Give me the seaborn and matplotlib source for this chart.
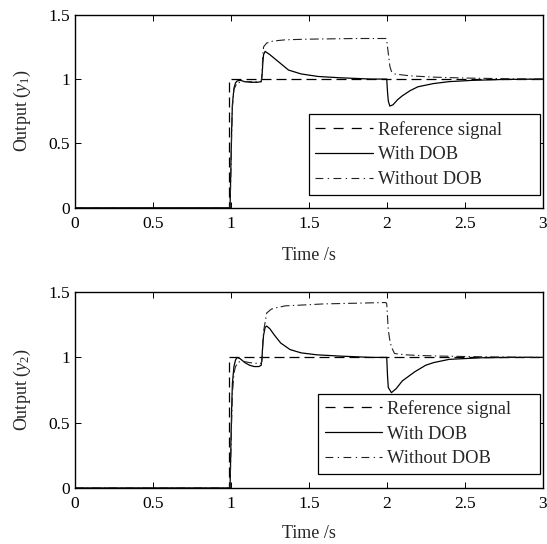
import numpy as np
import pandas as pd
import matplotlib
matplotlib.use("Agg")
import matplotlib.pyplot as plt
import seaborn as sns

# ---------------- data ----------------
ref_t = [0, 0.99, 0.99, 3.0]
ref_y = [0, 0, 1.0, 1.0]

# top panel (y1)
dob1_t = [0, 0.995, 1.0, 1.005, 1.01, 1.02, 1.03, 1.04, 1.06, 1.09, 1.13, 1.17, 1.195,
          1.2, 1.205, 1.21, 1.22, 1.25, 1.28, 1.31, 1.37, 1.45, 1.56, 1.7, 1.9, 2.0,
          2.005, 2.01, 2.02, 2.04, 2.07, 2.1, 2.15, 2.2, 2.3, 2.4, 2.55, 2.75, 3.0]
dob1_y = [0, 0, 0.3, 0.6, 0.8, 0.93, 0.97, 0.985, 0.99, 0.98, 0.975, 0.975, 0.98,
          1.02, 1.12, 1.19, 1.215, 1.19, 1.16, 1.13, 1.07, 1.04, 1.02, 1.01, 1.0, 1.0,
          0.9, 0.83, 0.79, 0.8, 0.84, 0.87, 0.91, 0.94, 0.965, 0.98, 0.99, 0.997, 1.0]

nod1_t = [0, 0.995, 1.0, 1.005, 1.01, 1.02, 1.04, 1.08, 1.15, 1.195, 1.2, 1.205, 1.21,
          1.23, 1.27, 1.35, 1.5, 1.8, 1.995, 2.0, 2.01, 2.02, 2.03, 2.05, 2.08, 2.15,
          2.3, 2.5, 2.75, 3.0]
nod1_y = [0, 0, 0.25, 0.55, 0.78, 0.92, 0.97, 0.98, 0.98, 0.98, 1.05, 1.18, 1.25,
          1.28, 1.295, 1.305, 1.31, 1.315, 1.315, 1.3, 1.2, 1.1, 1.06, 1.04, 1.035, 1.025,
          1.015, 1.008, 1.003, 1.0]

# bottom panel (y2)
dob2_t = [0, 0.995, 1.0, 1.005, 1.01, 1.02, 1.03, 1.04, 1.06, 1.09, 1.12, 1.15, 1.18,
          1.195, 1.2, 1.205, 1.21, 1.22, 1.23, 1.25, 1.28, 1.32, 1.38, 1.45, 1.55, 1.7,
          1.9, 2.0, 2.005, 2.01, 2.03, 2.06, 2.1, 2.18, 2.25, 2.3, 2.4, 2.6, 2.8, 3.0]
dob2_y = [0, 0, 0.3, 0.6, 0.8, 0.93, 0.98, 1.0, 0.99, 0.96, 0.94, 0.93, 0.93,
          0.94, 1.0, 1.1, 1.17, 1.23, 1.24, 1.22, 1.17, 1.11, 1.06, 1.035, 1.02, 1.01,
          1.0, 1.0, 0.86, 0.77, 0.73, 0.76, 0.82, 0.89, 0.94, 0.96, 0.985, 0.997, 1.0, 1.0]

nod2_t = [0, 0.995, 1.0, 1.005, 1.01, 1.02, 1.03, 1.05, 1.08, 1.12, 1.16, 1.195, 1.2,
          1.205, 1.21, 1.23, 1.26, 1.29, 1.35, 1.44, 1.6, 1.8, 1.97, 1.995, 2.0, 2.01,
          2.02, 2.03, 2.05, 2.08, 2.12, 2.2, 2.35, 2.6, 3.0]
nod2_y = [0, 0, 0.25, 0.5, 0.72, 0.88, 0.93, 0.965, 0.97, 0.96, 0.955, 0.955, 0.98,
          1.1, 1.2, 1.34, 1.37, 1.38, 1.395, 1.40, 1.41, 1.415, 1.42, 1.42, 1.41, 1.21,
          1.13, 1.08, 1.03, 1.025, 1.02, 1.015, 1.01, 1.005, 1.0]

x_ticks = [0, 0.5, 1, 1.5, 2, 2.5, 3]
y_ticks = [0, 0.5, 1, 1.5]
labels = ["Reference signal", "With DOB", "Without DOB"]

DASH = [8, 4]
DASHDOT = [8, 3, 1.2, 3]
LEG_DASH = [8, 6.5]
LEG_DASHDOT = [7, 4, 1.2, 4]

# ---------------- style ----------------
sns.set_style("ticks")
plt.rcParams["font.family"] = ["Liberation Serif", "DejaVu Serif"]
plt.rcParams["mathtext.fontset"] = "custom"
plt.rcParams["mathtext.rm"] = "Liberation Serif"
plt.rcParams["mathtext.it"] = "Liberation Serif:italic"
plt.rcParams["xtick.direction"] = "in"
plt.rcParams["ytick.direction"] = "in"

fig = plt.figure(figsize=(5.47, 5.44), dpi=100)
ax1 = fig.add_axes([0.137, 0.618, 0.855, 0.355])
ax2 = fig.add_axes([0.137, 0.103, 0.855, 0.360])

panels = [
    (ax1, dob1_t, dob1_y, nod1_t, nod1_y, r"Output ($y_1$)", (0.50, 0.068, 0.495, 0.3), 11),
    (ax2, dob2_t, dob2_y, nod2_t, nod2_y, r"Output ($y_2$)", (0.52, 0.072, 0.475, 0.3), 9.5),
]

for ax, dt, dy, nt, ny, ylab, bbox, xpad in panels:
    sns.lineplot(x=ref_t, y=ref_y, ax=ax, color="black", lw=0.9,
                 estimator=None, sort=False, label=labels[0])
    sns.lineplot(x=dt, y=dy, ax=ax, color="black", lw=0.9,
                 estimator=None, sort=False, label=labels[1])
    sns.lineplot(x=nt, y=ny, ax=ax, color="#222222", lw=0.8,
                 estimator=None, sort=False, label=labels[2])
    lines = ax.get_lines()
    lines[0].set_dashes(DASH)
    lines[2].set_dashes(DASHDOT)

    ax.set_xlim(0, 3)
    ax.set_ylim(0, 1.5)
    ax.set_xticks(x_ticks)
    ax.set_xticklabels(["0", "0.5", "1", "1.5", "2", "2.5", "3"])
    ax.set_yticks(y_ticks)
    ax.set_yticklabels(["0", "0.5", "1", "1.5"])
    ax.tick_params(labelsize=12.5, length=4, width=0.7, top=True, right=True,
                   color="black", labelcolor="black")
    ax.tick_params(axis="x", pad=6)
    for s in ax.spines.values():
        s.set_visible(True)
        s.set_linewidth(1.0)
        s.set_color("black")
    ax.set_xlabel("Time /s", fontsize=13, labelpad=xpad)
    ax.set_ylabel(ylab, fontsize=13, labelpad=11)

    leg = ax.legend(loc="lower left", bbox_to_anchor=bbox, mode="expand",
                    fontsize=13.3, handlelength=3.1, handletextpad=0.3,
                    labelspacing=0.42, borderpad=0.35, borderaxespad=0.0,
                    frameon=True, fancybox=False, framealpha=1.0)
    leg.get_frame().set_edgecolor("black")
    leg.get_frame().set_linewidth(0.9)
    hl = leg.get_lines()
    hl[0].set_dashes(LEG_DASH)
    hl[2].set_dashes(LEG_DASHDOT)

fig.savefig("out.png", dpi=100, facecolor="white")
